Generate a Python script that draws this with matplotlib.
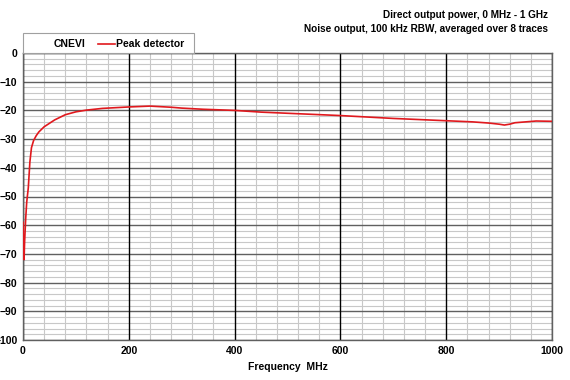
import matplotlib
matplotlib.use("Agg")
import matplotlib.pyplot as plt
from matplotlib.patches import Rectangle
from matplotlib.lines import Line2D

plt.rcParams['font.family'] = ['Liberation Sans', 'DejaVu Sans']
plt.rcParams['font.weight'] = 'bold'

freq_mhz = [0, 1, 2, 3, 5, 7, 10, 13, 16, 20, 25, 30, 40, 50, 60, 80, 100, 120, 150,
            200, 240, 280, 300, 340, 400, 450, 500, 550, 600, 650, 700, 750, 800,
            850, 880, 900, 910, 920, 930, 950, 970, 1000]
peak_db = [-59, -68, -72, -66, -58, -52, -47, -38, -33, -30.5, -28.8, -27.5, -25.7, -24.5,
           -23.3, -21.5, -20.5, -19.9, -19.3, -18.8, -18.5, -18.9, -19.2, -19.6, -20.0,
           -20.6, -21.0, -21.4, -21.8, -22.3, -22.8, -23.2, -23.6, -24.0, -24.4, -24.8,
           -25.1, -24.8, -24.3, -24.0, -23.7, -23.8]
y_ticks = [0, -10, -20, -30, -40, -50, -60, -70, -80, -90, -100]
x_ticks = [0, 200, 400, 600, 800, 1000]

fig = plt.figure(figsize=(5.7, 3.8), dpi=100)
ax = fig.add_axes([23/570, 1-340/380, (552-23)/570, (340-53)/380])
ax.set_xlim(0, 1000)
ax.set_ylim(-100, 0)

ax.set_xticks(x_ticks)
ax.set_yticks(y_ticks)
minor_x = [v for v in range(0, 1001, 40) if v % 200 != 0]
minor_y = [v for v in range(-100, 1, 2) if v % 10 != 0]
for v in minor_x:
    ax.axvline(v, color='#c8c8c8', linewidth=0.8, zorder=0.5)
for v in minor_y:
    ax.axhline(v, color='#c8c8c8', linewidth=0.8, zorder=0.5)
for v in y_ticks:
    ax.axhline(v, color='#606060', linewidth=1.0, zorder=0.8)
for v in x_ticks:
    ax.axvline(v, color='#000000', linewidth=1.0, zorder=0.9)
ax.tick_params(which='both', length=0, labelsize=7.5, pad=4)
for lab in ax.get_xticklabels() + ax.get_yticklabels():
    lab.set_fontweight('bold')
for s in ax.spines.values():
    s.set_color('#606060')
    s.set_linewidth(1.0)

ax.plot(freq_mhz, peak_db, color='#e0191e', linewidth=1.2, zorder=3)

ax.set_xlabel('Frequency  MHz', fontsize=7.5, fontweight='bold', labelpad=5)

# legend box above the axes
fig.patches.append(Rectangle((23/570, 1-53/380), (194-23)/570, 20/380,
                             transform=fig.transFigure, facecolor='white',
                             edgecolor='#a0a0a0', linewidth=0.8))
fig.text(70/570, 1-44/380, 'CNEVI', fontsize=7.5, fontweight='bold', ha='center', va='center')
fig.lines.append(Line2D([98/570, 115/570], [1-44/380, 1-44/380], transform=fig.transFigure,
                        color='#e0191e', linewidth=1.2))
fig.text(116/570, 1-44/380, 'Peak detector', fontsize=7.5, fontweight='bold', ha='left', va='center')

fig.text(548/570, 1-15/380, 'Direct output power, 0 MHz - 1 GHz', fontsize=7.2,
         fontweight='bold', ha='right', va='center')
fig.text(548/570, 1-29/380, 'Noise output, 100 kHz RBW, averaged over 8 traces', fontsize=7.2,
         fontweight='bold', ha='right', va='center')

fig.savefig('out.png', dpi=100)
